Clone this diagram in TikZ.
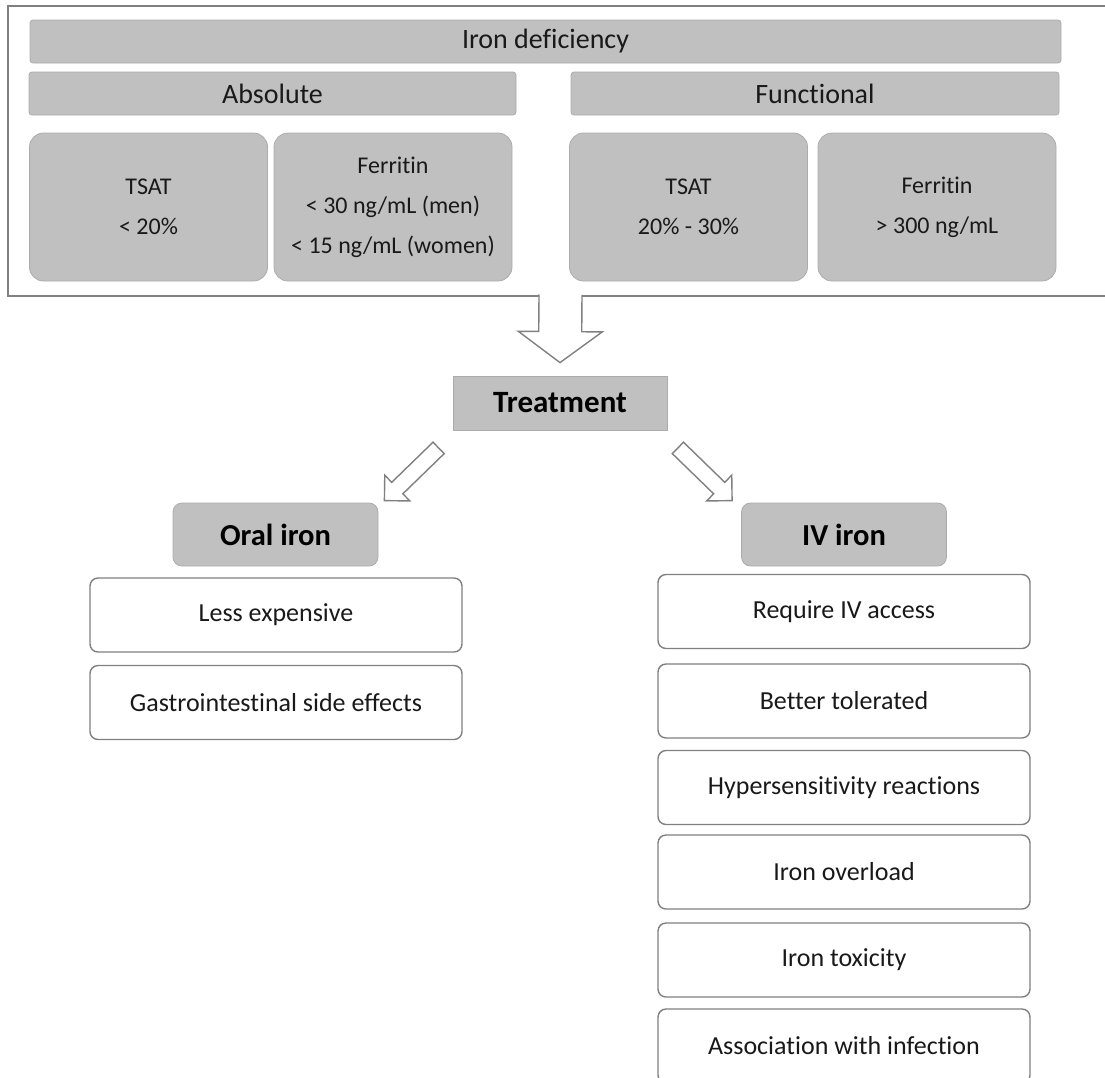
\documentclass[tikz,border=0pt]{standalone}
\usepackage{fontspec}
\setmainfont{Carlito}[Ligatures=NoCommon]
\usetikzlibrary{calc}

\definecolor{barfill}{RGB}{192,192,192}
\definecolor{baredge}{RGB}{172,172,172}
\definecolor{linegray}{RGB}{128,128,128}
\definecolor{inkgray}{RGB}{25,25,25}

% hollow block arrow: [end] {tail} {tip} {shaft half} {head half} {head length}
\newcommand{\fatarrow}[6][-- cycle]{%
  \coordinate (nk) at ($(#3)!#6!(#2)$);
  \draw[hollowarrow] ($(#2)!#4!90:(#3)$) -- ($(nk)!#4!90:(#3)$) -- ($(nk)!#5!90:(#3)$) -- (#3)
    -- ($(nk)!#5!-90:(#3)$) -- ($(nk)!#4!-90:(#3)$) -- ($(#2)!#4!-90:(#3)$) #1;
}

\begin{document}
\begin{tikzpicture}[x=1pt, y=-1pt,
        headbar/.style={fill=barfill, draw=baredge, line width=0.8pt, rounded corners=3pt,
                        minimum height=43pt, inner sep=0pt, text=inkgray,
                        font=\fontsize{28}{34}\selectfont},
        critbox/.style={fill=barfill, draw=baredge, line width=0.8pt, rounded corners=14pt,
                        minimum width=238pt, minimum height=148pt, align=center, text=inkgray,
                        font=\fontsize{24}{40}\selectfont},
        treatbox/.style={fill=barfill, draw=baredge, line width=0.8pt,
                         minimum width=214pt, minimum height=54pt, text=black,
                         font=\fontsize{31}{36}\selectfont\bfseries},
        routebox/.style={fill=barfill, draw=baredge, line width=0.8pt, rounded corners=9pt,
                         minimum width=205pt, minimum height=63pt, text=black,
                         font=\fontsize{30.5}{36}\selectfont\bfseries},
        notebox/.style={fill=white, draw=linegray, line width=1.4pt, rounded corners=8pt,
                        minimum width=372pt, minimum height=74pt, text=inkgray,
                        font=\fontsize{26}{32}\selectfont},
        framebox/.style={draw=linegray, line width=1.5pt},
        hollowarrow/.style={draw=linegray, fill=white, line width=1.4pt, line join=miter}
    ]
        \useasboundingbox (0,0) rectangle (1105,1077);

        % criteria panel
        \draw[framebox] (1115,6) -- (8,6) -- (8,296) -- (1115,296);
        \node[headbar, minimum width=1031pt] (idef) at (545.5,41.5) {Iron deficiency};
        \node[headbar, minimum width=487pt] (abs) at (272.5,93.5) {Absolute};
        \node[headbar, minimum width=488pt] (func) at (815,93.5) {Functional};

        \node[critbox] (tsatA) at (148.5,207) {TSAT\\< 20\%};
        \node[critbox] (ferA) at (393,207) {Ferritin\\< 30 ng/mL (men)\\< 15 ng/mL (women)};
        \node[critbox] (tsatF) at (688.5,207) {TSAT\\20\% - 30\%};
        \node[critbox] (ferF) at (937,207) {Ferritin\\> 300 ng/mL};

        % treatment
        \node[treatbox] (treat) at (560,403) {Treatment};
        \node[routebox] (oral) at (275.5,534.5) {Oral iron};
        \node[routebox] (iv) at (844,534.5) {IV iron};

        \coordinate (dtail) at ($(treat.north)+(0.5,-81)$);
        \coordinate (dtip) at ($(treat.north)+(0,-13)$);
        \fatarrow[]{dtail}{dtip}{21.5pt}{42pt}{31pt}

        \coordinate (ltail) at ($(treat.south west)+(-14,17.5)$);
        \coordinate (ltip) at ($(oral.north east)+(6,-2)$);
        \fatarrow{ltail}{ltip}{8pt}{18pt}{18pt}
        \coordinate (rtail) at ($(treat.south east)+(10.5,17.5)$);
        \coordinate (rtip) at ($(iv.north west)+(-9,-2)$);
        \fatarrow{rtail}{rtip}{8pt}{18pt}{18pt}

        % oral iron notes
        \node[notebox] (cheap) at (276,615) {Less expensive};
        \node[notebox] (gi) at (276,702.5) {Gastrointestinal side effects};

        % iv iron notes
        \node[notebox] (access) at (844,611.5) {Require IV access};
        \node[notebox] (toler) at (844,701) {Better tolerated};
        \node[notebox] (hyper) at (844,787.5) {Hypersensitivity reactions};
        \node[notebox] (load) at (844,872) {Iron overload};
        \node[notebox] (tox) at (844,960) {Iron toxicity};
        \node[notebox] (infect) at (844,1046) {Association with infection};
    \end{tikzpicture}
\end{document}
